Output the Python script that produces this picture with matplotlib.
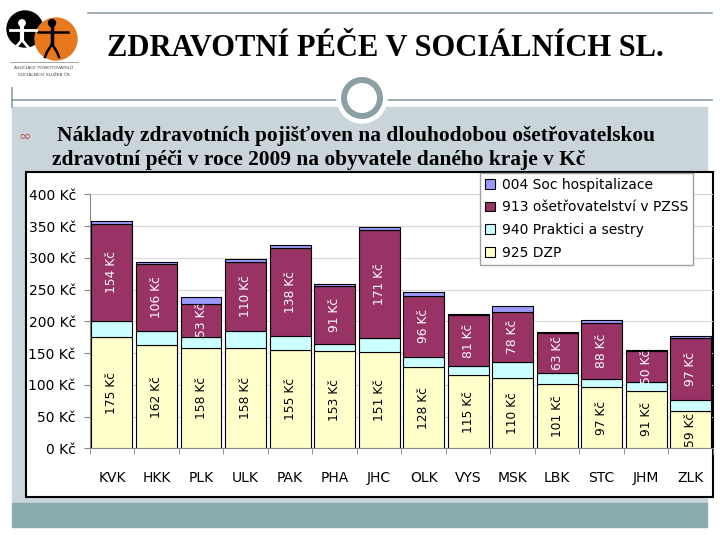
import matplotlib
matplotlib.use("Agg")
import matplotlib.pyplot as plt
from matplotlib.patches import Circle, Rectangle
import numpy as np

# data (Kč na obyvatele, 2009)
regions = ['KVK', 'HKK', 'PLK', 'ULK', 'PAK', 'PHA', 'JHC',
           'OLK', 'VYS', 'MSK', 'LBK', 'STC', 'JHM', 'ZLK']
dzp_925 = [175, 162, 158, 158, 155, 153, 151, 128, 115, 110, 101, 97, 91, 59]
praktici_940 = [25, 23, 17, 26, 22, 12, 22, 16, 14, 26, 18, 12, 13, 17]
osetr_913 = [154, 106, 53, 110, 138, 91, 171, 96, 81, 78, 63, 88, 50, 97]
soc_004 = [4, 2, 11, 4, 5, 3, 4, 6, 2, 10, 1, 5, 1, 4]
y_ticks = [0, 50, 100, 150, 200, 250, 300, 350, 400]

W, H = 720, 540
fig = plt.figure(figsize=(7.2, 5.4), dpi=100)

# slide background drawn in pixel coordinates
bg = fig.add_axes([0, 0, 1, 1])
bg.set_xlim(0, W)
bg.set_ylim(H, 0)
bg.axis('off')

line_c = '#8c9fa5'
bg.add_patch(Rectangle((12, 107), 695, 396, color='#c9d5da', zorder=1))
bg.add_patch(Rectangle((12, 503), 695, 24, color='#8aacac', zorder=1))
bg.plot([88, 712], [13, 13], color=line_c, lw=1.2, zorder=2)
bg.plot([12, 12], [88, 107], color=line_c, lw=1.2, zorder=2)
bg.plot([12, 712], [100, 100], color=line_c, lw=1.2, zorder=2)
bg.add_patch(Circle((362, 98), 25, color='white', zorder=3))
bg.add_patch(Circle((362, 98), 18, fill=False, ec='#8aa0a2', lw=4.3, zorder=4))

# logo
bg.add_patch(Circle((25, 29), 18, color='black', zorder=2))
bg.add_patch(Circle((56, 39), 21, color='#e8781e', zorder=3))
bg.add_patch(Circle((52, 23), 3.5, color='black', zorder=4))
bg.plot([52, 52], [26, 44], color='black', lw=2.5, zorder=4)
bg.plot([38, 68], [32, 32], color='black', lw=1.8, zorder=4)
bg.plot([52, 47, 45], [44, 52, 57], color='black', lw=1.8, zorder=4)
bg.plot([52, 57, 59], [44, 52, 57], color='black', lw=1.8, zorder=4)
bg.add_patch(Circle((22, 23), 3.2, color='white', zorder=4))
bg.plot([22, 22], [26, 40], color='white', lw=3, zorder=4)
bg.plot([10, 36], [30, 30], color='white', lw=2, zorder=4)
bg.plot([22, 16], [40, 47], color='white', lw=2, zorder=4)
bg.plot([22, 28], [40, 47], color='white', lw=2, zorder=4)
bg.plot([10, 78], [62, 62], color='#999999', lw=0.6, zorder=2)
bg.text(44, 68, 'ASOCIACE POSKYTOVATELŮ', fontsize=3.2, ha='center', va='center', color='#444444')
bg.text(44, 75, 'SOCIÁLNÍCH SLUŽEB ČR', fontsize=3.2, ha='center', va='center', color='#444444')

bg.text(385, 48, 'ZDRAVOTNÍ PÉČE V SOCIÁLNÍCH SL.', fontsize=22, weight='bold',
        family='Liberation Serif', ha='center', va='center', color='black')
bg.text(25, 136, '∞', fontsize=11, color='#c0504d', ha='center', va='center')
bg.text(57, 136, 'Náklady zdravotních pojišťoven na dlouhodobou ošetřovatelskou',
        fontsize=15.4, family='Liberation Serif', weight='bold', ha='left', va='center')
bg.text(52, 160, 'zdravotní péči v roce 2009 na obyvatele daného kraje v Kč',
        fontsize=15.4, family='Liberation Serif', weight='bold', ha='left', va='center')

# chart frame
bg.add_patch(Rectangle((26, 172), 687, 325, fc='white', ec='black', lw=1.5, zorder=5))

# chart
ax = fig.add_axes([89.7 / W, 1 - 448.3 / H, (713 - 89.7) / W, (448.3 - 194.3) / H])
ax.set_facecolor('none')
x = np.arange(len(regions))
bw = 0.92
dzp = np.array(dzp_925)
pr = np.array(praktici_940)
os_ = np.array(osetr_913)
so = np.array(soc_004)

b1 = ax.bar(x, dzp, bw, color='#ffffcc', edgecolor='black', lw=0.8, zorder=3, label='925 DZP')
b2 = ax.bar(x, pr, bw, bottom=dzp, color='#ccffff', edgecolor='black', lw=0.8, zorder=3,
            label='940 Praktici a sestry')
b3 = ax.bar(x, os_, bw, bottom=dzp + pr, color='#993366', edgecolor='black', lw=0.8, zorder=3,
            label='913 ošetřovatelství v PZSS')
b4 = ax.bar(x, so, bw, bottom=dzp + pr + os_, color='#9999ff', edgecolor='black', lw=0.8, zorder=3,
            label='004 Soc hospitalizace')

for i in range(len(regions)):
    ax.text(x[i], dzp[i] / 2, f'{dzp[i]} Kč', rotation=90, ha='center', va='center',
            fontsize=8.8, color='black', zorder=4)
    ax.text(x[i], dzp[i] + pr[i] + os_[i] / 2, f'{os_[i]} Kč', rotation=90, ha='center',
            va='center', fontsize=8.8, color='white', zorder=4)

ax.set_ylim(0, 400)
ax.set_xlim(-0.5, 13.47)
ax.set_yticks(y_ticks)
ax.set_yticklabels([f'{v} Kč' for v in y_ticks])
ax.set_xticks(x)
ax.set_xticklabels(regions)
ax.set_xticks(np.arange(-0.5, 14, 1), minor=True)
ax.tick_params(axis='x', which='major', length=0, pad=16, labelsize=10)
ax.tick_params(axis='x', which='minor', length=4, color='#888888')
ax.tick_params(axis='y', length=4, color='#888888', pad=6, labelsize=10)
ax.yaxis.grid(True, color='#d9d9d9', lw=0.8, zorder=0)
ax.set_axisbelow(True)
for s in ['top', 'right']:
    ax.spines[s].set_visible(False)
ax.spines['left'].set_color('#888888')
ax.spines['bottom'].set_color('#888888')

handles = [b4, b3, b2, b1]
leg = ax.legend(handles, [h.get_label() for h in handles], loc='upper left',
                bbox_to_anchor=(480 / W, 1 - 173 / H), bbox_transform=fig.transFigure,
                borderaxespad=0, fontsize=10, handlelength=0.7, handleheight=0.7,
                handletextpad=0.5, labelspacing=0.62, borderpad=0.35, fancybox=False,
                framealpha=1, edgecolor='#a0a0a0')
leg.set_zorder(6)

fig.savefig('out.png', dpi=100)
